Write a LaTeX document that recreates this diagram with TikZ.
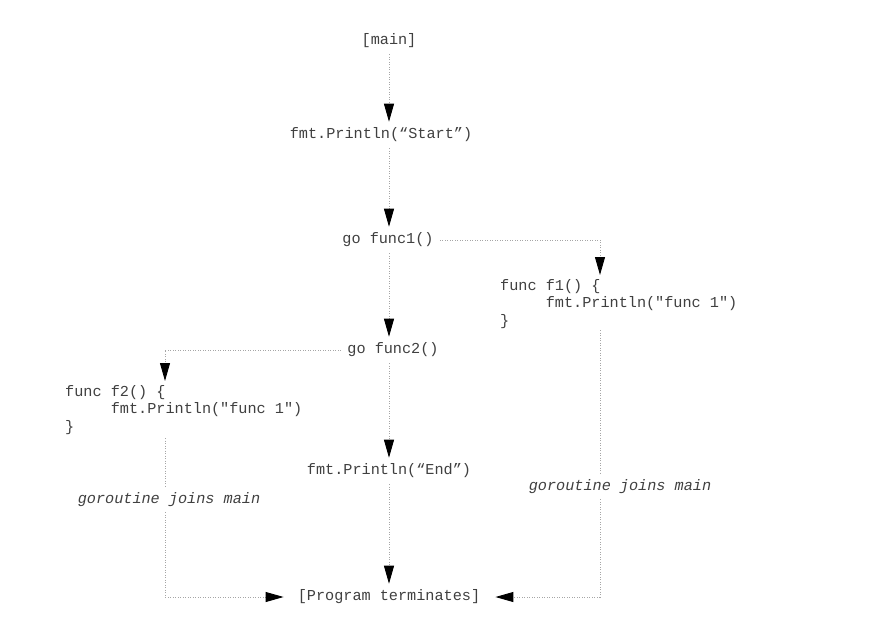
\documentclass[tikz,border=0pt]{standalone}
\usepackage{fontspec}
\setmonofont{Liberation Mono}
\usetikzlibrary{positioning, calc}
\usetikzlibrary{arrows.meta}
\definecolor{codegray}{HTML}{404040}

\begin{document}
\begin{tikzpicture}[x=1pt,y=-1pt,font=\ttfamily\fontsize{15.2}{17.5}\selectfont,text=codegray]
	\def \colmain{389}
	\def \colleft{165}
	\def \colright{600}
	\tikzstyle{s-node}=[inner sep=6pt]
	\tikzstyle{c-node}=[inner sep=0pt,align=left,anchor=north west]
	\tikzstyle{j-node}=[inner sep=5pt,font=\ttfamily\itshape\fontsize{15.2}{17.5}\selectfont]
	\tikzstyle{link}=[draw=gray!70,line width=0.9pt,dash pattern=on 0.9pt off 1.6pt]
	\tikzstyle{flow}=[link,-{Triangle[length=18pt,width=10pt,color=black]}]

	\useasboundingbox (0,0) rectangle (877,632);

	% main routine
	\node[s-node] 	(main)	at (\colmain,41)	{[main]};
	\node[s-node] 	(start)	at (381,135)		{fmt.Println(“Start”)};
	\node[s-node] 	(func1)	at (388,240)		{go func1()};
	\node[s-node] 	(func2)	at (393,350)		{go func2()};
	\node[s-node] 	(end)	at (\colmain,471)	{fmt.Println(“End”)};
	\node[s-node] 	(prog)	at (\colmain,597)	{[Program terminates]};

	% goroutines
	\node[c-node] 	(f1)	at (500,279)	{func f1() \{\\\hspace*{3em}fmt.Println("func 1")\\\}};
	\node[c-node] 	(f2)	at (65,385)	{func f2() \{\\\hspace*{3em}fmt.Println("func 1")\\\}};
	\node[j-node] 	(join-r)	at (620,487)	{goroutine joins main};
	\node[j-node] 	(join-l)	at (169,500)	{goroutine joins main};

	\coordinate (f1-in)	at (\colright,275);
	\coordinate (f1-out)	at (\colright,330);
	\coordinate (f2-in)	at (\colleft,381);
	\coordinate (f2-out)	at (\colleft,438);

	\draw[flow] (main.south) -- (main.south |- start.north);
	\draw[flow] (start.south -| main) -- (main |- func1.north);
	\draw[flow] (func1.south -| main) -- (main |- func2.north);
	\draw[flow] (func2.south -| main) -- (end.north);
	\draw[flow] (end.south) -- (prog.north);

	\draw[flow] (func1.east) -| (f1-in);
	\draw[flow] (func2.west) -| (f2-in);

	\draw[link] (f1-out) -- (f1-out |- join-r.north);
	\draw[flow,shorten >=9pt] (join-r.south -| f1-out) |- (prog.east);
	\draw[link] (f2-out) -- (f2-out |- join-l.north);
	\draw[flow,shorten >=8pt] (join-l.south -| f2-out) |- (prog.west);
\end{tikzpicture}
\end{document}
